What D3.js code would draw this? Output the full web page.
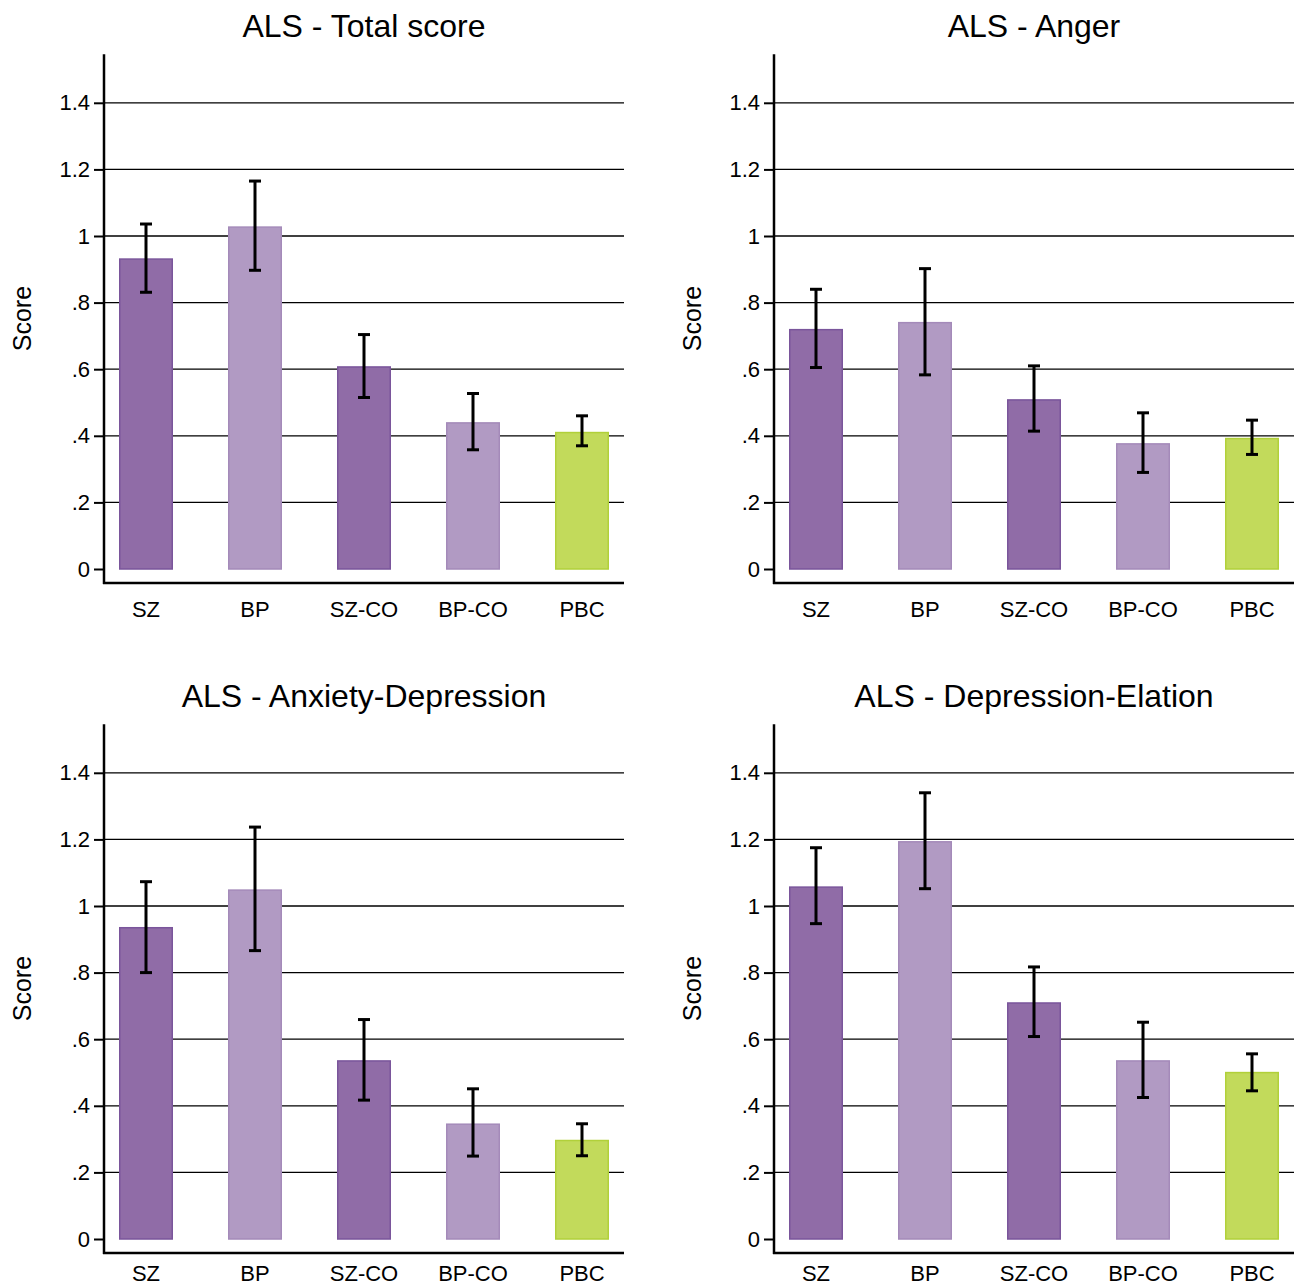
<!DOCTYPE html>
<html>
<head>
<meta charset="utf-8">
<script src="https://cdn.jsdelivr.net/npm/d3@7"></script>
<style>
  html, body { margin: 0; padding: 0; background: #fff; }
  svg text { font-family: "Liberation Sans", Arial, Helvetica, sans-serif; fill: #000; }
</style>
</head>
<body>
<svg id="chart" width="1296" height="1288"></svg>
<script>
// ---- data ----
const categories = ["SZ", "BP", "SZ-CO", "BP-CO", "PBC"];
const tickValues = [0, 0.2, 0.4, 0.6, 0.8, 1.0, 1.2, 1.4];
const tickLabels = ["0", ".2", ".4", ".6", ".8", "1", "1.2", "1.4"];
const panelTitles = ["ALS - Total score", "ALS - Anger", "ALS - Anxiety-Depression", "ALS - Depression-Elation"];
const yTitle = "Score";

const totalMean  = [0.933, 1.029, 0.609, 0.441, 0.412];
const totalLow   = [0.831, 0.897, 0.515, 0.358, 0.370];
const totalHigh  = [1.036, 1.165, 0.704, 0.527, 0.460];

const angerMean  = [0.721, 0.742, 0.510, 0.378, 0.394];
const angerLow   = [0.605, 0.583, 0.414, 0.290, 0.344];
const angerHigh  = [0.840, 0.902, 0.610, 0.469, 0.447];

const anxMean    = [0.937, 1.050, 0.537, 0.347, 0.298];
const anxLow     = [0.800, 0.866, 0.417, 0.249, 0.250];
const anxHigh    = [1.073, 1.237, 0.659, 0.451, 0.346];

const depMean    = [1.059, 1.195, 0.711, 0.537, 0.502];
const depLow     = [0.947, 1.052, 0.608, 0.425, 0.445];
const depHigh    = [1.175, 1.340, 0.817, 0.651, 0.556];

const yMax = 1.546;

const fills   = ["#906ca7", "#b19ac3", "#906ca7", "#b19ac3", "#c2da5b"];
const strokes = ["#7a559b", "#a48ab9", "#7a559b", "#a48ab9", "#b1d03a"];

const panels = [
  {title: panelTitles[0], mean: totalMean, low: totalLow, high: totalHigh},
  {title: panelTitles[1], mean: angerMean, low: angerLow, high: angerHigh},
  {title: panelTitles[2], mean: anxMean,   low: anxLow,   high: anxHigh},
  {title: panelTitles[3], mean: depMean,   low: depLow,   high: depHigh}
];

// ---- layout ----
const svg = d3.select("#chart");
const offsets = [[0, 0], [670, 0], [0, 670], [670, 670]];
const labelY = [617, 617, 611, 611];
const left = 104, right = 624, zeroY = 569, topTickY = 102.8, axisY = 583;
const barW = 54, capW = 12;

panels.forEach((p, i) => {
  const g = svg.append("g").attr("transform", `translate(${offsets[i][0]},${offsets[i][1]})`);
  const y = d3.scaleLinear().domain([0, 1.4]).range([zeroY, topTickY]);
  const x = d3.scalePoint().domain(categories).range([left + 42, right - 42]);

  // gridlines
  g.append("g").selectAll("line").data(tickValues.filter(v => v > 0)).join("line")
    .attr("x1", left).attr("x2", right)
    .attr("y1", d => y(d)).attr("y2", d => y(d))
    .attr("stroke", "#000").attr("stroke-width", 1.3);

  // bars
  g.append("g").selectAll("rect").data(p.mean).join("rect")
    .attr("x", (d, j) => x(categories[j]) - barW / 2 + 0.75)
    .attr("width", barW - 1.5)
    .attr("y", d => y(d) + 0.75)
    .attr("height", d => y(0) - y(d) - 0.75)
    .attr("fill", (d, j) => fills[j])
    .attr("stroke", (d, j) => strokes[j])
    .attr("stroke-width", 1.5);

  // error bars
  const eb = g.append("g").attr("stroke", "#000").attr("stroke-width", 3);
  categories.forEach((c, j) => {
    const cx = x(c);
    eb.append("line").attr("x1", cx).attr("x2", cx).attr("y1", y(p.high[j])).attr("y2", y(p.low[j]));
    eb.append("line").attr("x1", cx - capW / 2).attr("x2", cx + capW / 2).attr("y1", y(p.high[j])).attr("y2", y(p.high[j]));
    eb.append("line").attr("x1", cx - capW / 2).attr("x2", cx + capW / 2).attr("y1", y(p.low[j])).attr("y2", y(p.low[j]));
  });

  // y axis
  const ya = g.append("g").attr("transform", `translate(${left},0)`)
    .call(d3.axisLeft(y).tickValues(tickValues).tickFormat((d, k) => tickLabels[k]).tickSize(10).tickPadding(4));
  ya.select(".domain").remove();
  ya.selectAll(".tick line").attr("stroke", "#000").attr("stroke-width", 2);
  ya.selectAll(".tick text").attr("font-size", 22).attr("font-family", "Liberation Sans, Arial, sans-serif");

  g.append("line").attr("x1", left).attr("x2", left).attr("y1", y(yMax)).attr("y2", axisY + 1)
    .attr("stroke", "#000").attr("stroke-width", 2.5);
  g.append("line").attr("x1", left - 1).attr("x2", right).attr("y1", axisY).attr("y2", axisY)
    .attr("stroke", "#000").attr("stroke-width", 2.5);

  // x labels
  g.append("g").selectAll("text").data(categories).join("text")
    .attr("x", d => x(d)).attr("y", labelY[i])
    .attr("text-anchor", "middle").attr("font-size", 22)
    .text(d => d);

  // y title
  g.append("text")
    .attr("transform", `translate(31,${(y(yMax) + axisY) / 2}) rotate(-90)`)
    .attr("text-anchor", "middle").attr("font-size", 25)
    .text(yTitle);

  // title
  g.append("text").attr("x", (left + right) / 2).attr("y", 37)
    .attr("text-anchor", "middle").attr("font-size", 32)
    .text(p.title);
});
</script>
</body>
</html>
